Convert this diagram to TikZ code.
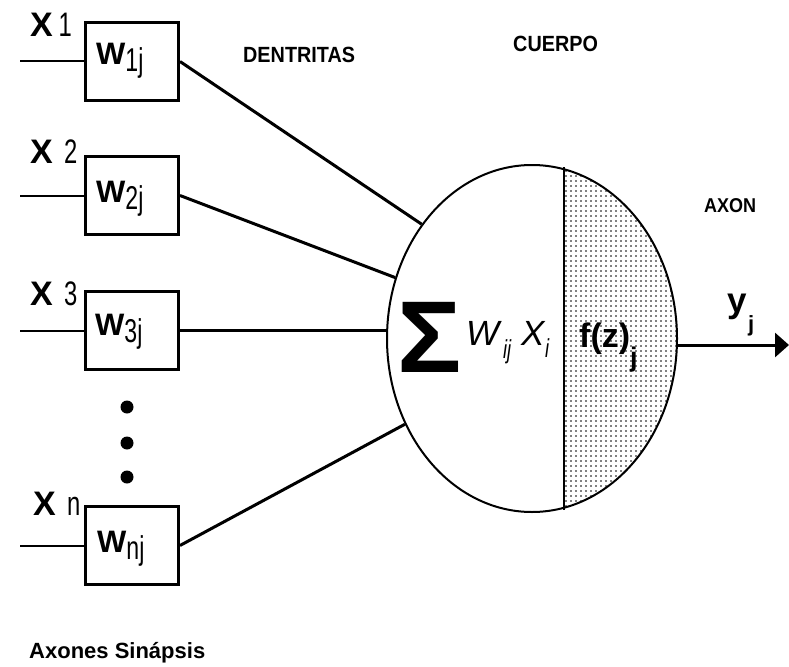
\documentclass[tikz,border=0pt]{standalone}
\usepackage{fontspec}
\setmainfont{Liberation Sans}
\newfontfamily\narrowfont[FakeStretch=0.7]{Liberation Sans}
\newfontfamily\titlefont[FakeStretch=0.9]{Liberation Sans}
\newfontfamily\sigfont[FakeStretch=1.05]{Liberation Sans}
\usetikzlibrary{shapes.geometric,arrows.meta}
\tikzset{
  wbox/.style={draw, line width=3, minimum width=93, minimum height=78, inner sep=0},
  inline/.style={line width=2},
  conn/.style={line width=3},
  lab/.style={anchor=base west, inner sep=0},
  xlab/.style={lab, font=\fontsize{34}{34}\selectfont},
  wlab/.style={lab, font=\fontsize{31}{31}\selectfont},
  ttl/.style={lab, font=\titlefont\bfseries\fontsize{22}{22}\selectfont},
  bdot/.style={circle, fill, inner sep=0, minimum size=13},
}
\begin{document}
\begin{tikzpicture}[x=1pt,y=-1pt]
\useasboundingbox (0,0) rectangle (789,666);

% weight boxes
\node[wbox] (w1) at (132,61.5) {};
\node[wbox] (w2) at (132,195.5) {};
\node[wbox] (w3) at (132,330.5) {};
\node[wbox] (wn) at (132,545.5) {};

% input line starts
\coordinate (in1) at (20,61.5);
\coordinate (in2) at (20,195.5);
\coordinate (in3) at (20,330.5);
\coordinate (inn) at (20,545.5);
\draw[inline] (in1) -- (w1.west);
\draw[inline] (in2) -- (w2.west);
\draw[inline] (in3) -- (w3.west);
\draw[inline] (inn) -- (wn.west);

% input labels
\node[xlab] (x1) at (30,37) {\textbf{X}{\narrowfont\,1}};
\node[xlab] (x2) at (30,163) {\textbf{X}{\narrowfont\,\,2}};
\node[xlab] (x3) at (30,305) {\textbf{X}{\narrowfont\,\,3}};
\node[xlab] (xn) at (33,515) {\textbf{X}{\narrowfont\,\,n}};

% weight labels
\node[wlab] (l1) at (96,65) {\textbf{W}\raisebox{-7pt}{\narrowfont\fontsize{33}{33}\selectfont 1j}};
\node[wlab] (l2) at (96,202) {\textbf{W}\raisebox{-7pt}{\narrowfont\fontsize{33}{33}\selectfont 2j}};
\node[wlab] (l3) at (95,335) {\textbf{W}\raisebox{-7pt}{\narrowfont\fontsize{33}{33}\selectfont 3j}};
\node[wlab] (ln) at (97,552) {\textbf{W}\raisebox{-7pt}{\narrowfont\fontsize{33}{33}\selectfont nj}};

% dots
\node[bdot] (d1) at (127,407) {};
\node[bdot] (d2) at (127,443) {};
\node[bdot] (d3) at (127,477) {};

% cell body shading (right half)
\coordinate (cc) at (532,338.5);
\begin{scope}
  \clip (564,150) rectangle (700,530);
  \clip (cc) ellipse [x radius=145, y radius=173.5];
  \foreach \px in {566,571,...,681} {
    \foreach \py in {166,171,...,512} {
      \fill (\px,\py) circle (0.9);
    }
  }
\end{scope}

% cell body
\node[draw, ellipse, line width=2, minimum width=290, minimum height=347, inner sep=0] (cell) at (cc) {};
\coordinate (dtop) at (564,167);
\coordinate (dbot) at (564,510);
\draw[line width=2] (dtop) -- (dbot);

% connectors (dendrites)
\draw[conn] (w1.east) -- (cell.134);
\draw[conn] (w2.east) -- (cell.156);
\draw[conn] (w3.east) -- (w3.east -| cell.west);
\draw[conn] (wn.east) -- (cell.214);

% axon output
\coordinate (out) at (789,345);
\draw[conn, -{Triangle[length=14, width=24]}] (cell.east |- out) -- (out);

% formula
\node[lab, font=\sigfont\bfseries\fontsize{102}{102}\selectfont] (sig) at (397,372) {Σ};
\node[lab, font=\itshape\fontsize{35}{35}\selectfont] (fw) at (466,345) {W};
\node[lab, font=\narrowfont\itshape\fontsize{26}{26}\selectfont] (fij) at (503,358) {ij};
\node[lab, font=\itshape\fontsize{35}{35}\selectfont] (fx) at (521,345) {X};
\node[lab, font=\narrowfont\itshape\fontsize{26}{26}\selectfont] (fi) at (545,357) {i};
\node[lab, font=\bfseries\fontsize{34}{34}\selectfont] (fz) at (579,347) {f(z)};
\node[lab, font=\bfseries\fontsize{27}{27}\selectfont] (fzj) at (630,366) {j};
\node[lab, font=\bfseries\fontsize{35}{35}\selectfont] (yo) at (727,312) {y};
\node[lab, font=\bfseries\fontsize{22}{22}\selectfont] (yoj) at (748,331) {j};

% titles
\node[ttl] (tden) at (243,63) {DENTRITAS};
\node[ttl] (tcue) at (513,52) {CUERPO};
\node[lab, font=\titlefont\bfseries\fontsize{20}{20}\selectfont] (taxo) at (704,212) {AXON};
\node[lab, font=\bfseries\fontsize{22}{22}\selectfont] (tsin) at (29,658) {Axones Sinápsis};
\end{tikzpicture}
\end{document}
